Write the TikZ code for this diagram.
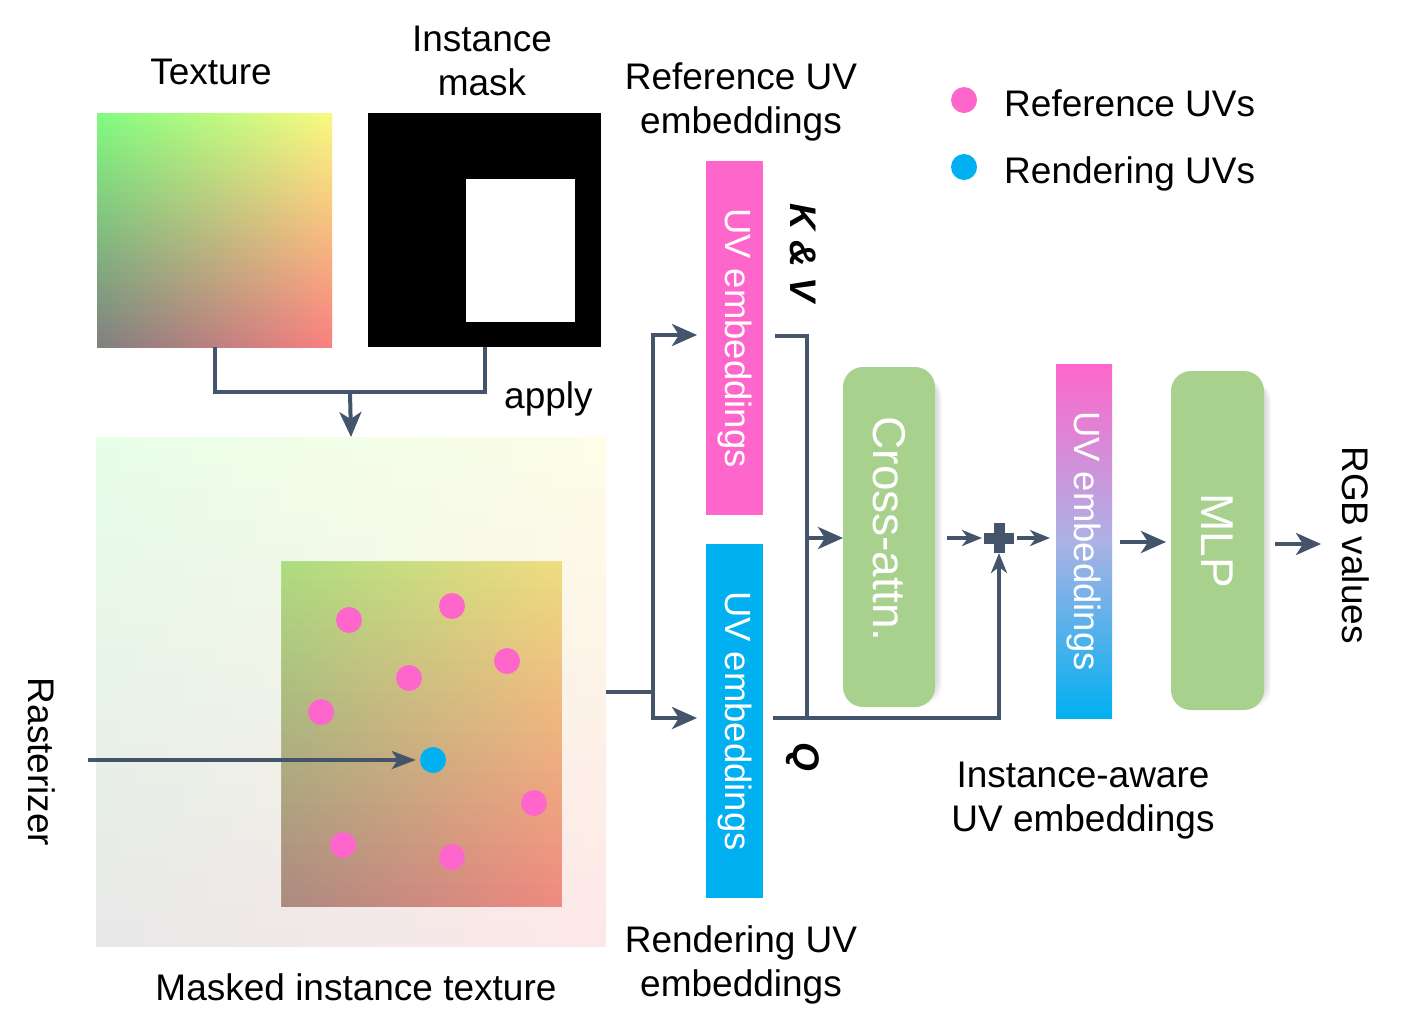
\documentclass[tikz,border=0pt]{standalone}
\usepackage{fontspec}
\setmainfont{Liberation Sans}
\usepackage{graphicx}
\usetikzlibrary{arrows.meta}
\definecolor{uvTL}{RGB}{128,252,128}
\definecolor{uvTR}{RGB}{250,250,128}
\definecolor{uvBL}{RGB}{128,128,128}
\definecolor{uvBR}{RGB}{250,128,128}
\definecolor{uvpink}{RGB}{255,102,204}
\definecolor{uvblue}{RGB}{0,176,240}
\definecolor{uvmid}{RGB}{172,178,228}
\definecolor{boxgreen}{RGB}{169,209,142}
\definecolor{slate}{RGB}{68,84,106}
\newcommand{\uvgradient}[4]{%
  \pgfmathsetmacro{\ystep}{(#4-#2)/50}%
  \foreach \i in {0,...,49}{%
    \pgfmathsetmacro{\ya}{#2+\ystep*\i}%
    \pgfmathsetmacro{\yb}{min(#4,#2+\ystep*(\i+1)+0.8)}%
    \pgfmathtruncatemacro{\pc}{100-2*\i-1}%
    \shade[left color=uvTL!\pc!uvBL, right color=uvTR!\pc!uvBR] (#1,\ya) rectangle (#3,\yb);
  }}
\newcommand{\softshadow}[4]{%
  \foreach \k in {1,...,6}{%
    \fill[black, opacity=0.022, rounded corners=20pt] (#1+4,#2+10) rectangle (#3+\k+1,#4-8+\k);
  }}
\tikzset{
  ln/.style={draw=slate, line width=4pt},
  arr/.style={-{Stealth[length=25pt,width=22pt,inset=7pt]}},
  arrs/.style={-{Stealth[length=20pt,width=16pt,inset=6pt]}},
  lbl/.style={font=\fontsize{37}{44}\selectfont, inner sep=0pt, align=center},
  bar/.style={inner sep=0pt, outer sep=0pt, anchor=north west, text=white, font=\fontsize{36.5}{44}\selectfont},
  gbox/.style={inner sep=0pt, outer sep=0pt, anchor=north west, fill=boxgreen, rounded corners=20pt, text=white,
    font=\fontsize{46}{55}\selectfont},
  dot/.style={circle, inner sep=0pt, minimum size=26pt},
  sq/.style={inner sep=0pt, outer sep=0pt, anchor=north west},
}
\begin{document}
\begin{tikzpicture}[x=1pt,y=-1pt]
\useasboundingbox (0,0) rectangle (1426,1029);
% texture and mask
\uvgradient{97}{113}{332}{347}
\node[sq, minimum width=235pt, minimum height=234pt] (tex) at (97,113) {};
\node[sq, fill=black, minimum width=233pt, minimum height=234pt] (mask) at (368,113) {};
\node[sq, fill=white, minimum width=109pt, minimum height=143pt] (maskin) at (466,179) {};
\node[lbl, anchor=base] (texL) at (211,84) {Texture};
\node[lbl] (maskL) at (482,61) {Instance\\mask};
% masked instance texture
\uvgradient{96}{437}{606}{946}
\fill[white, fill opacity=0.82, even odd rule] (95,436) rectangle (607,947) (281,561) rectangle (562,907);
\node[sq, minimum width=510pt, minimum height=509pt] (masked) at (96,437) {};
\node[lbl, anchor=base] (maskedL) at (356,1000) {Masked instance texture};
% apply connector
\coordinate (applyj) at (350,392);
\draw[ln] (tex.south) |- (applyj) -| (mask.south);
\draw[ln,arr] (applyj) -- (masked.north);
\node[lbl, anchor=base west] (applyL) at (504,408) {apply};
% UV points
\foreach \n/\px/\py in {p1/349/620, p2/452/606, p3/507/661, p4/409/678, p5/321/712, p6/534/803, p7/343/845, p8/452/857}
  \node[dot, fill=uvpink] (\n) at (\px,\py) {};
\node[dot, fill=uvblue] (bdot) at (433,760) {};
\coordinate (rs) at (88,760);
\draw[draw=slate, line width=3.5pt, -{Stealth[length=24pt,width=18pt,inset=6pt]}, shorten >=4pt] (rs) -- (bdot);
\node[lbl] (rastL) at (42,762) {\rotatebox{-90}{Rasterizer}};
% embedding bars
\node[bar, fill=uvpink, minimum width=57pt, minimum height=354pt] (refbar) at (706,161) {\rotatebox{-90}{UV embeddings}};
\node[bar, fill=uvblue, minimum width=57pt, minimum height=354pt] (renbar) at (706,544) {\rotatebox{-90}{UV embeddings}};
\node[lbl] (refL) at (741,102) {Reference UV\\embeddings};
\node[lbl] (renL) at (741,965) {Rendering UV\\embeddings};
\node[lbl] (kvL) at (803,253) {\rotatebox{-90}{\bfseries\itshape K \& V}};
\node[lbl] (qL) at (803,757) {\rotatebox{-90}{\bfseries\itshape Q}};
% split to bars
\coordinate (split) at (653,692);
\draw[ln] (masked.east |- split) -- (split);
\draw[ln,arr,shorten >=9pt] (split) |- ([yshift=3pt]refbar.west);
\draw[ln,arr,shorten >=9pt] (split) |- ([yshift=3pt]renbar.west);
% cross attention
\softshadow{843}{367}{935}{707}
\node[gbox, minimum width=92pt, minimum height=340pt] (cross) at (843,367) {\rotatebox{-90}{Cross-attn.\hspace*{16pt}}};
\node[sq, anchor=center, minimum size=30pt,
  path picture={\fill[slate] ([xshift=-15pt,yshift=-5.5pt]path picture bounding box.center) rectangle ++(30pt,11pt);
                \fill[slate] ([xshift=-5.5pt,yshift=-15pt]path picture bounding box.center) rectangle ++(11pt,30pt);}]
  (plus) at (999,538) {};
\coordinate (kvj) at (807,336);
\coordinate (qj) at (807,718);
\coordinate (kvx) at (807,538);
\draw[ln] ([xshift=12pt]refbar.east |- kvj) -- (kvj) -- (qj);
\draw[ln,arr] (kvx) -- (cross.west |- kvx);
\draw[ln,arrs] ([xshift=10pt]renbar.east |- qj) -| (plus.south);
\draw[ln,arrs] ([xshift=12pt]cross.east |- plus) -- ([xshift=-2pt]plus.west);
% instance-aware embeddings
\node[bar, top color=uvpink, bottom color=uvblue, middle color=uvmid, minimum width=56pt, minimum height=354pt] (gradbar) at (1056,364) {\rotatebox{-90}{UV embeddings}};
\draw[ln,arrs] ([xshift=3pt]plus.east) -- ([xshift=-6pt]gradbar.west |- plus);
\node[lbl] (iaL) at (1083,801) {Instance-aware\\UV embeddings};
% MLP
\softshadow{1171}{371}{1264}{710}
\node[gbox, minimum width=93pt, minimum height=339pt] (mlp) at (1171,371) {\rotatebox{-90}{MLP}};
\coordinate (rgbin) at (1321,544);
\node[lbl] (rgbL) at (1356,545) {\rotatebox{-90}{RGB values}};
\draw[ln,arr] ([xshift=8pt,yshift=-1pt]gradbar.east) -- ([xshift=-5pt,yshift=-1pt]mlp.west |- gradbar.east);
\draw[ln,arr] ([xshift=11pt]mlp.east |- rgbin) -- (rgbin);
% legend
\node[dot, fill=uvpink] (lgp) at (964,100) {};
\node[dot, fill=uvblue] (lgb) at (964,167) {};
\node[lbl, anchor=base west] (lgpL) at (1004,116) {Reference UVs};
\node[lbl, anchor=base west] (lgbL) at (1004,183) {Rendering UVs};
\end{tikzpicture}
\end{document}
